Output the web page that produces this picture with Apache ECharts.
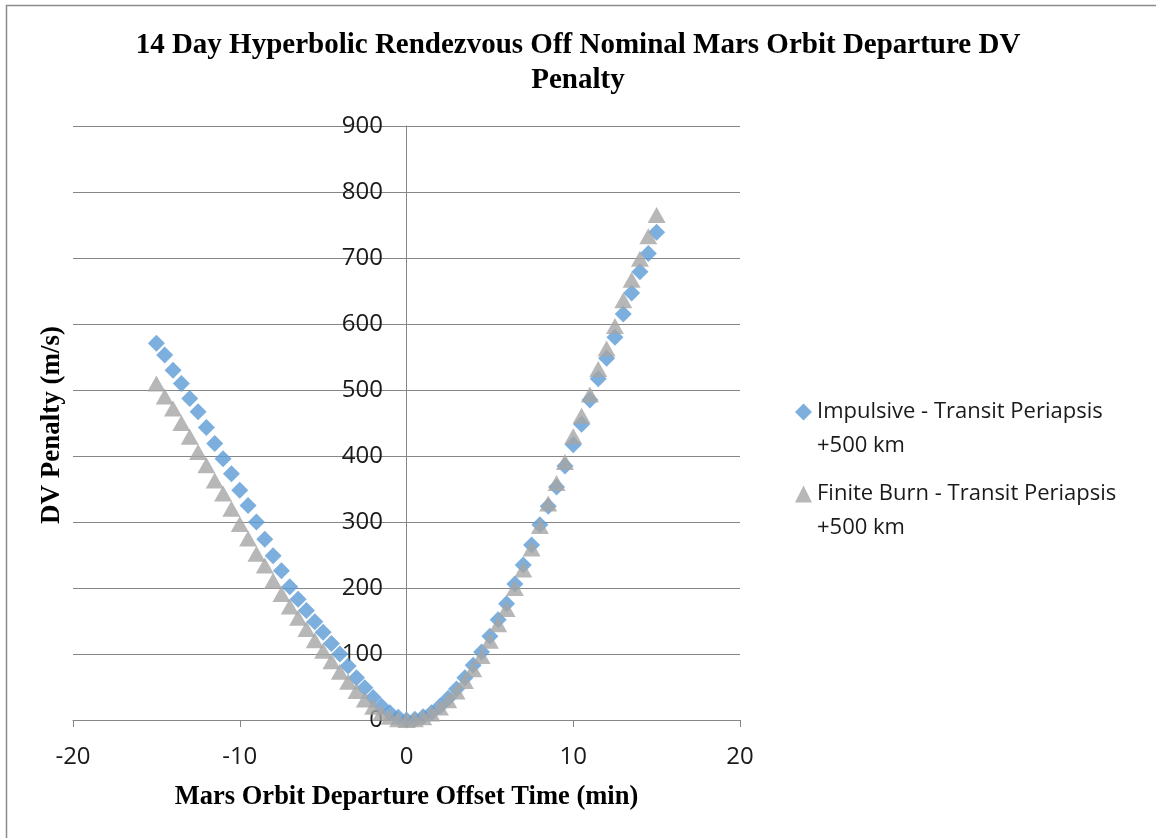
<!DOCTYPE html>
<html>
<head>
<meta charset="utf-8">
<script src="https://cdn.jsdelivr.net/npm/echarts@6/dist/echarts.min.js"></script>
<style>
  html, body { margin: 0; padding: 0; background: #fff; }
  #chart { width: 1156px; height: 838px; }
</style>
</head>
<body>
<div id="chart"></div>
<script>
// offset time (min)
var offsetTime = [
    -15, -14.5, -14, -13.5, -13, -12.5, -12, -11.5, -11, -10.5,
    -10, -9.5, -9, -8.5, -8, -7.5, -7, -6.5, -6, -5.5,
    -5, -4.5, -4, -3.5, -3, -2.5, -2, -1.5, -1, -0.5,
    0, 0.5, 1, 1.5, 2, 2.5, 3, 3.5, 4, 4.5,
    5, 5.5, 6, 6.5, 7, 7.5, 8, 8.5, 9, 9.5,
    10, 10.5, 11, 11.5, 12, 12.5, 13, 13.5, 14, 14.5, 15
];
// DV penalty (m/s)
var impulsive = [
    571, 553, 530, 510, 487, 467, 443, 419, 396, 373,
    348, 325, 300, 274, 249, 226, 202, 183, 166, 149,
    133, 116, 100, 82, 64, 49, 34, 21, 11, 4,
    0, 1, 5, 11, 21, 33, 47, 64, 83, 103,
    127, 152, 176, 206, 235, 265, 296, 324, 353, 385,
    417, 448, 485, 517, 548, 580, 615, 647, 679, 707, 739
];
var finiteBurn = [
    510, 490, 472, 450, 429, 406, 386, 363, 343, 320,
    297, 275, 252, 234, 211, 191, 172, 155, 138, 121,
    105, 89, 73, 58, 44, 31, 20, 11, 5, 1,
    0, 1, 4, 10, 19, 30, 43, 59, 77, 97,
    120, 145, 168, 200, 228, 260, 294, 328, 359, 391,
    430, 461, 493, 532, 563, 597, 636, 667, 699, 733, 765
];
var seriesNames = ['Impulsive - Transit Periapsis +500 km', 'Finite Burn - Transit Periapsis +500 km'];

function pairs(xs, ys) {
    return xs.map(function (x, i) { return [x, ys[i]]; });
}

var myChart = echarts.init(document.getElementById('chart'));
var option = {
    backgroundColor: '#fff',
    animation: false,
    title: {
        text: '14 Day Hyperbolic Rendezvous Off Nominal Mars Orbit Departure DV\nPenalty',
        left: 'center',
        top: 28,
        padding: 0,
        textStyle: {
            fontFamily: 'Liberation Serif',
            fontWeight: 'bold',
            fontSize: 29,
            lineHeight: 35,
            color: '#000'
        }
    },
    legend: {
        orient: 'vertical',
        left: 795,
        top: 361,
        padding: 0,
        itemWidth: 17,
        itemHeight: 17,
        itemGap: -20,
        // empty first line keeps the marker level with the first text line
        formatter: function (name) { return '\n' + name.replace(' +500', '\n+500'); },
        textStyle: {
            fontFamily: 'Open Sans',
            fontSize: 22,
            lineHeight: 34,
            color: '#1a1a1a'
        }
    },
    grid: {
        left: 73,
        right: 416,
        top: 126,
        bottom: 118
    },
    xAxis: {
        type: 'value',
        min: -20,
        max: 20,
        interval: 10,
        name: 'Mars Orbit Departure Offset Time (min)',
        nameLocation: 'middle',
        nameGap: 64,
        nameTextStyle: {
            fontFamily: 'Liberation Serif',
            fontWeight: 'bold',
            fontSize: 26.5,
            color: '#000'
        },
        axisLine: { lineStyle: { color: '#868686', width: 1 } },
        axisTick: { show: true, length: 7, lineStyle: { color: '#868686' } },
        axisLabel: {
            margin: 25,
            fontFamily: 'Open Sans',
            fontSize: 24,
            color: '#1a1a1a'
        },
        splitLine: { show: false }
    },
    yAxis: {
        type: 'value',
        min: 0,
        max: 900,
        interval: 100,
        offset: -333,
        axisLine: { show: true, onZero: false, lineStyle: { color: '#868686', width: 1 } },
        axisTick: { show: false },
        axisLabel: {
            margin: 23,
            fontFamily: 'Open Sans',
            fontSize: 24,
            color: '#1a1a1a'
        },
        splitLine: { show: true, lineStyle: { color: '#868686', width: 1 } }
    },
    series: [
        {
            type: 'scatter',
            name: seriesNames[0],
            symbol: 'diamond',
            symbolSize: 17,
            itemStyle: { color: '#5b9bd5' },
            data: pairs(offsetTime, impulsive)
        },
        {
            type: 'scatter',
            name: seriesNames[1],
            symbol: 'triangle',
            symbolSize: [18, 16],
            itemStyle: { color: '#a5a5a5' },
            data: pairs(offsetTime, finiteBurn)
        }
    ],
    graphic: [
        {
            type: 'rect',
            shape: { x: 6.5, y: 5.5, width: 1300, height: 1000 },
            style: { fill: 'none', stroke: '#8c8c8c', lineWidth: 1.5 },
            silent: true
        },
        {
            type: 'text',
            x: 52,
            y: 425,
            rotation: Math.PI / 2,
            style: {
                text: 'DV Penalty (m/s)',
                fontFamily: 'Liberation Serif',
                fontWeight: 'bold',
                fontSize: 27,
                fill: '#000',
                align: 'center',
                verticalAlign: 'middle'
            }
        }
    ]
};

myChart.setOption(option);
</script>
</body>
</html>
